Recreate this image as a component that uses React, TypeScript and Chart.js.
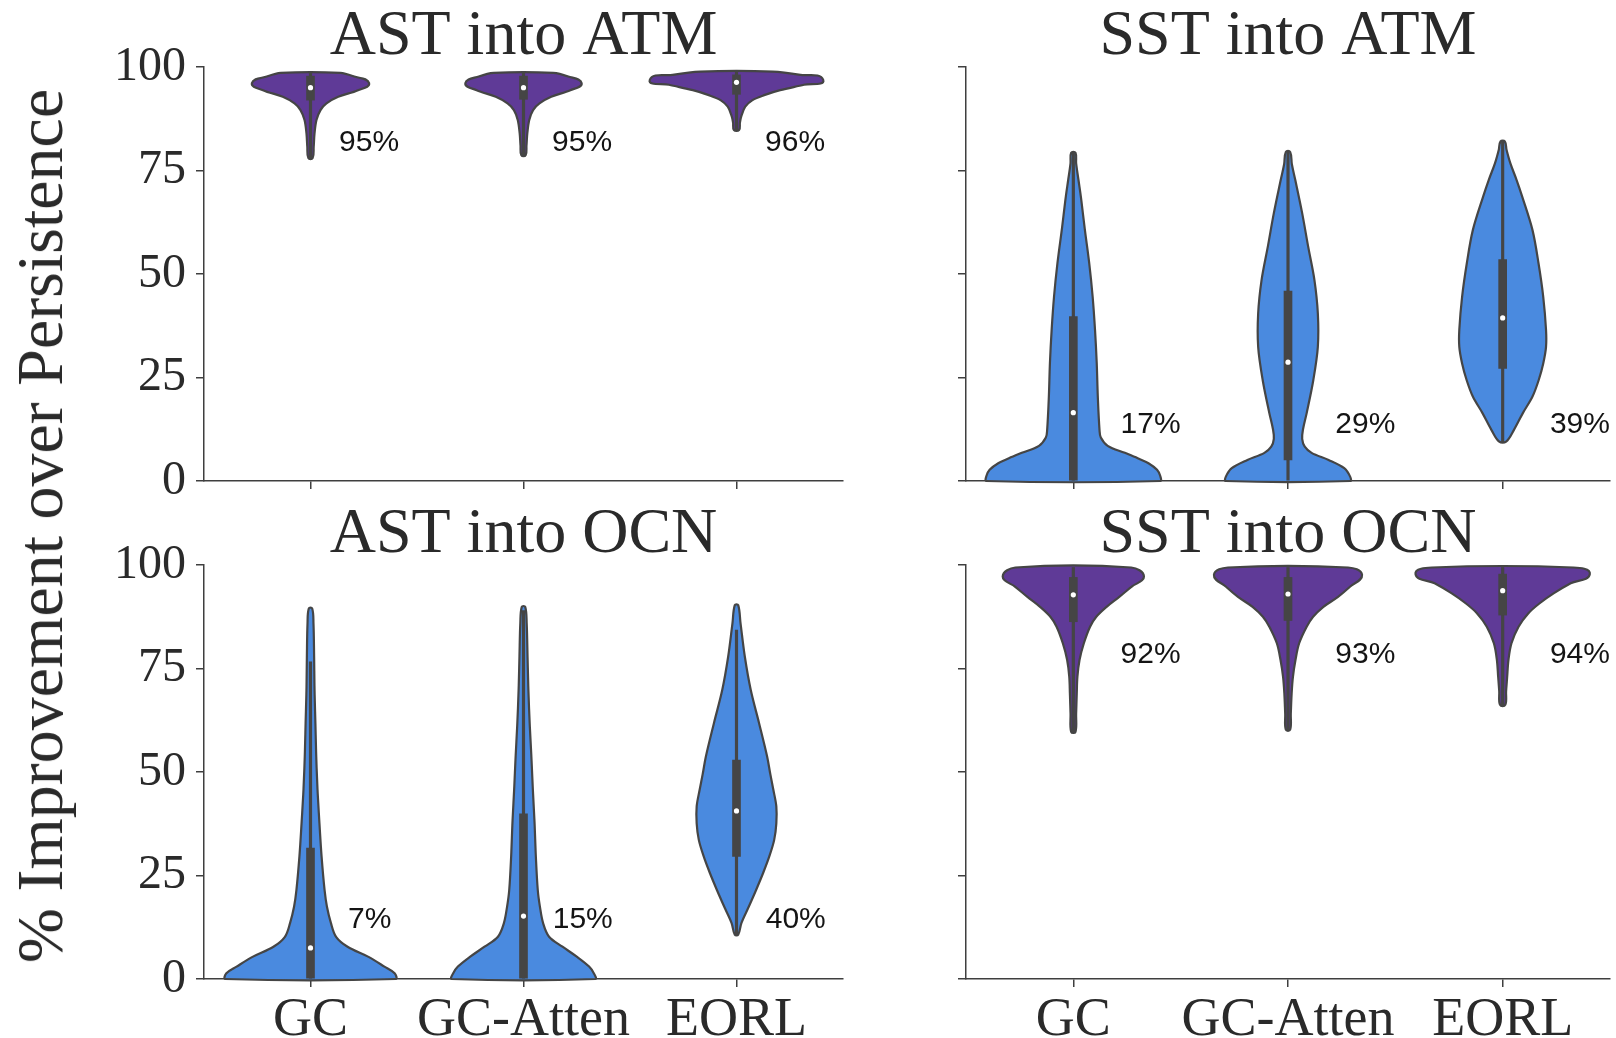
import React, { useEffect, useRef } from 'react';
import { Chart, registerables } from 'chart.js';

Chart.register(...registerables);

// ---------- data ----------
const CATEGORIES = ['GC', 'GC-Atten', 'EORL'];
const Y_MIN = 0;
const Y_MAX = 100;
const Y_STEP = 25;
const Y_AXIS_TITLE = '% Improvement over Persistence';

// violin profiles: [value, half-width as fraction of category spacing]
// AST into ATM
const AST_ATM_GC = [[98.6, 0.14], [97.7, 0.205], [96.1, 0.275], [94.4, 0.223], [92.8, 0.13], [91.2, 0.075], [89.6, 0.047], [87.2, 0.028], [84.0, 0.019], [80.7, 0.015], [78.0, 0.01]];
const AST_ATM_GCATT = [[98.6, 0.14], [97.7, 0.21], [96.1, 0.273], [94.4, 0.22], [92.8, 0.13], [91.2, 0.075], [89.6, 0.045], [87.2, 0.027], [84.0, 0.018], [81.0, 0.014], [78.7, 0.01]];
const AST_ATM_EORL = [[98.9, 0.17], [98.1, 0.3], [96.9, 0.407], [95.7, 0.317], [94.4, 0.205], [93.2, 0.13], [92.0, 0.075], [90.4, 0.041], [88.0, 0.022], [86.5, 0.016], [84.8, 0.012]];
const AST_ATM_BOX = [[92.0, 97.8], [92.2, 97.8], [93.4, 98.1]];
const AST_ATM_WHISKER = [[78.0, 98.6], [78.7, 98.6], [84.8, 98.9]];
const AST_ATM_MEDIAN = [95.0, 95.0, 96.3];
const AST_ATM_PCT = ['95%', '95%', '96%'];

// SST into ATM
const SST_ATM_GC = [[79.3, 0.01], [76.8, 0.013], [72.7, 0.024], [68.7, 0.035], [60.6, 0.054], [52.6, 0.074], [44.5, 0.09], [36.5, 0.101], [28.5, 0.109], [20.4, 0.114], [12.3, 0.122], [10.5, 0.128], [8.5, 0.16], [6.8, 0.24], [5.5, 0.3], [4.3, 0.35], [2.7, 0.39], [1.2, 0.405], [0.0, 0.405]];
const SST_ATM_GCATT = [[79.5, 0.01], [76.5, 0.018], [72.7, 0.034], [64.7, 0.066], [56.6, 0.094], [48.6, 0.123], [40.5, 0.139], [32.4, 0.139], [24.4, 0.118], [16.4, 0.087], [12.5, 0.07], [10.2, 0.066], [8.3, 0.078], [6.8, 0.11], [5.1, 0.189], [3.1, 0.262], [1.0, 0.29], [0.0, 0.29]];
const SST_ATM_EORL = [[82.0, 0.01], [80.0, 0.018], [76.7, 0.036], [72.7, 0.065], [68.7, 0.091], [60.6, 0.139], [52.6, 0.167], [44.5, 0.189], [36.5, 0.202], [32.4, 0.202], [28.4, 0.189], [24.4, 0.168], [20.4, 0.139], [16.4, 0.094], [12.3, 0.052], [9.5, 0.016]];
const SST_ATM_BOX = [[0.0, 39.7], [5.1, 45.9], [27.2, 53.5]];
const SST_ATM_WHISKER = [[0.0, 79.3], [0.0, 79.5], [9.5, 82.0]];
const SST_ATM_MEDIAN = [16.5, 28.7, 39.4];
const SST_ATM_PCT = ['17%', '29%', '39%'];

// AST into OCN
const AST_OCN_GC = [[89.5, 0.008], [85.9, 0.014], [77.9, 0.017], [69.8, 0.019], [61.8, 0.023], [53.7, 0.027], [45.7, 0.033], [37.6, 0.042], [29.6, 0.052], [21.5, 0.066], [17.5, 0.077], [13.5, 0.096], [10.2, 0.12], [7.8, 0.174], [5.4, 0.27], [3.0, 0.347], [1.4, 0.395], [0.0, 0.4]];
const AST_OCN_GCATT = [[89.9, 0.008], [85.9, 0.015], [77.9, 0.019], [69.8, 0.023], [61.8, 0.029], [53.7, 0.037], [45.7, 0.044], [37.6, 0.052], [29.6, 0.058], [21.5, 0.067], [17.5, 0.077], [13.5, 0.092], [10.2, 0.12], [7.8, 0.183], [5.4, 0.25], [3.0, 0.308], [1.4, 0.33], [0.0, 0.337]];
const AST_OCN_EORL = [[90.3, 0.008], [85.9, 0.019], [77.9, 0.039], [69.8, 0.067], [61.8, 0.106], [53.7, 0.144], [49.7, 0.158], [45.7, 0.173], [41.7, 0.187], [37.6, 0.187], [33.6, 0.177], [29.6, 0.154], [25.6, 0.125], [21.5, 0.092], [17.5, 0.058], [13.5, 0.023], [10.7, 0.008]];
const AST_OCN_BOX = [[0.0, 31.6], [0.0, 39.9], [29.6, 52.9]];
const AST_OCN_WHISKER = [[0.0, 76.6], [0.0, 89.0], [10.7, 84.3]];
const AST_OCN_MEDIAN = [7.5, 15.2, 40.6];
const AST_OCN_PCT = ['7%', '15%', '40%'];

// SST into OCN
const SST_OCN_GC = [[99.4, 0.27], [97.2, 0.329], [94.8, 0.272], [92.3, 0.214], [89.9, 0.155], [87.5, 0.107], [85.1, 0.078], [81.1, 0.049], [77.1, 0.029], [73.0, 0.019], [69.0, 0.016], [64.0, 0.013], [59.7, 0.01]];
const SST_OCN_GCATT = [[99.4, 0.28], [97.6, 0.345], [94.8, 0.29], [92.3, 0.233], [89.9, 0.165], [87.5, 0.117], [85.1, 0.087], [81.1, 0.052], [77.1, 0.035], [73.0, 0.023], [69.0, 0.017], [64.0, 0.013], [60.2, 0.01]];
const SST_OCN_EORL = [[99.4, 0.33], [97.8, 0.406], [95.6, 0.317], [93.2, 0.239], [90.7, 0.171], [88.3, 0.119], [85.1, 0.074], [81.1, 0.041], [77.1, 0.027], [73.0, 0.021], [69.5, 0.016], [66.2, 0.012]];
const SST_OCN_BOX = [[86.3, 97.0], [86.6, 97.0], [87.9, 97.8]];
const SST_OCN_WHISKER = [[59.7, 99.4], [60.2, 99.4], [66.2, 99.4]];
const SST_OCN_MEDIAN = [92.8, 93.0, 93.8];
const SST_OCN_PCT = ['92%', '93%', '94%'];

// ---------- styles ----------
const PURPLE = '#5f3a97';
const BLUE = '#4a8adf';
const LINE = '#454545';
const AXIS = '#3f3f3f';
const TEXT = '#2a2a2a';
const SERIF = '"Liberation Serif", "Times New Roman", serif';
const SANS = '"Liberation Sans", Arial, sans-serif';

type Panel = {
  title: string;
  profiles: number[][][];
  box: number[][];
  whisker: number[][];
  median: number[];
  pct: string[];
  color: string;
  labelY: number;
  labelDx: number;
  showY: boolean;
  showX: boolean;
  left: number; top: number; w: number; h: number;
  yAxisW: number; xAxisH: number; padRight: number; titleTop: number;
};

const PANELS: Panel[] = [
  {
    title: 'AST into ATM', profiles: [AST_ATM_GC, AST_ATM_GCATT, AST_ATM_EORL], box: AST_ATM_BOX, whisker: AST_ATM_WHISKER,
    median: AST_ATM_MEDIAN, pct: AST_ATM_PCT, color: PURPLE, labelY: 81.7, labelDx: 0.275, showY: true, showX: false,
    left: 0, top: 0, w: 880, h: 520, yAxisW: 204, xAxisH: 39, padRight: 37, titleTop: 7,
  },
  {
    title: 'SST into ATM', profiles: [SST_ATM_GC, SST_ATM_GCATT, SST_ATM_EORL], box: SST_ATM_BOX, whisker: SST_ATM_WHISKER,
    median: SST_ATM_MEDIAN, pct: SST_ATM_PCT, color: BLUE, labelY: 13.5, labelDx: 0.36, showY: false, showX: false,
    left: 900, top: 0, w: 716, h: 520, yAxisW: 66, xAxisH: 39, padRight: 6, titleTop: 7,
  },
  {
    title: 'AST into OCN', profiles: [AST_OCN_GC, AST_OCN_GCATT, AST_OCN_EORL], box: AST_OCN_BOX, whisker: AST_OCN_WHISKER,
    median: AST_OCN_MEDIAN, pct: AST_OCN_PCT, color: BLUE, labelY: 14.3, labelDx: 0.278, showY: true, showX: true,
    left: 0, top: 500, w: 880, h: 538, yAxisW: 204, xAxisH: 59, padRight: 37, titleTop: 5,
  },
  {
    title: 'SST into OCN', profiles: [SST_OCN_GC, SST_OCN_GCATT, SST_OCN_EORL], box: SST_OCN_BOX, whisker: SST_OCN_WHISKER,
    median: SST_OCN_MEDIAN, pct: SST_OCN_PCT, color: PURPLE, labelY: 78.3, labelDx: 0.36, showY: false, showX: true,
    left: 900, top: 500, w: 716, h: 538, yAxisW: 66, xAxisH: 59, padRight: 6, titleTop: 5,
  },
];

// smooth closed curve; tangent lengths limited by the adjacent chord so corners don't overshoot
function smoothClosed(ctx: CanvasRenderingContext2D, pts: number[][]) {
  const n = pts.length;
  const dir = (a: number[], b: number[]) => {
    const dx = b[0] - a[0];
    const dy = b[1] - a[1];
    const l = Math.hypot(dx, dy) || 1;
    return [dx / l, dy / l];
  };
  ctx.moveTo(pts[0][0], pts[0][1]);
  for (let i = 0; i < n; i++) {
    const p0 = pts[(i - 1 + n) % n];
    const p1 = pts[i];
    const p2 = pts[(i + 1) % n];
    const p3 = pts[(i + 2) % n];
    const len = Math.hypot(p2[0] - p1[0], p2[1] - p1[1]) / 3;
    const d1 = dir(p0, p2);
    const d2 = dir(p1, p3);
    ctx.bezierCurveTo(p1[0] + d1[0] * len, p1[1] + d1[1] * len, p2[0] - d2[0] * len, p2[1] - d2[1] * len, p2[0], p2[1]);
  }
  ctx.closePath();
}

function makeViolinPlugin(p: Panel) {
  return {
    id: 'violins',
    beforeDatasetsDraw(chart: any) {
      const { ctx } = chart;
      const x = chart.scales.x;
      const y = chart.scales.y;
      const unit = x.getPixelForValue(1) - x.getPixelForValue(0);
      p.profiles.forEach((prof, i) => {
        const cx = x.getPixelForValue(i);
        const right = prof.map(([v, w]) => [cx + w * unit, y.getPixelForValue(v)]);
        const left = prof.slice().reverse().map(([v, w]) => [cx - w * unit, y.getPixelForValue(v)]);
        const pts = right.concat(left);
        ctx.save();
        ctx.beginPath();
        smoothClosed(ctx, pts);
        ctx.fillStyle = p.color;
        ctx.fill();
        ctx.lineWidth = 2.2;
        ctx.lineJoin = 'round';
        ctx.strokeStyle = LINE;
        ctx.stroke();
        ctx.restore();
      });
    },
    afterDatasetsDraw(chart: any) {
      const { ctx } = chart;
      const x = chart.scales.x;
      const y = chart.scales.y;
      ctx.save();
      ctx.font = `30px ${SANS}`;
      ctx.fillStyle = '#141414';
      ctx.textAlign = 'center';
      ctx.textBaseline = 'middle';
      p.pct.forEach((t, i) => {
        ctx.fillText(t, x.getPixelForValue(i + p.labelDx), y.getPixelForValue(p.labelY));
      });
      ctx.restore();
    },
  };
}

function PanelChart({ p }: { p: Panel }) {
  const ref = useRef<HTMLCanvasElement | null>(null);
  useEffect(() => {
    if (!ref.current) return;
    const chart = new Chart(ref.current, {
      type: 'bar',
      data: {
        labels: CATEGORIES,
        datasets: [
          {
            type: 'line',
            data: p.median,
            showLine: false,
            pointRadius: 2.6,
            pointBackgroundColor: '#ffffff',
            pointBorderWidth: 0,
            pointHoverRadius: 2.6,
          } as any,
          {
            type: 'bar',
            data: p.box as any,
            backgroundColor: LINE,
            borderWidth: 0,
            barThickness: 8,
            grouped: false,
          } as any,
          {
            type: 'bar',
            data: p.whisker as any,
            backgroundColor: LINE,
            borderWidth: 0,
            barThickness: 2.5,
            grouped: false,
          } as any,
        ],
      },
      options: {
        responsive: false,
        animation: false,
        devicePixelRatio: 1,
        layout: { padding: { left: 0, right: p.padRight, top: 0, bottom: 0 } },
        plugins: {
          legend: { display: false },
          tooltip: { enabled: false },
          title: {
            display: true,
            text: p.title,
            fullSize: false,
            color: TEXT,
            font: { family: SERIF, size: 64, weight: 'normal', lineHeight: 0.9375 },
            padding: { top: p.titleTop, bottom: 0 },
          },
        },
        scales: {
          x: {
            type: 'category',
            offset: true,
            ticks: {
              display: p.showX,
              color: TEXT,
              font: { family: SERIF, size: 54, lineHeight: 1 },
              padding: 7,
              maxRotation: 0,
              autoSkip: false,
            },
            grid: { offset: false, drawOnChartArea: false, drawTicks: true, tickLength: 8, color: AXIS, lineWidth: 1.5 },
            border: { display: true, color: AXIS, width: 1.5 },
            afterFit: (s: any) => { s.height = p.xAxisH; },
          },
          y: {
            min: Y_MIN,
            max: Y_MAX,
            ticks: {
              stepSize: Y_STEP,
              display: p.showY,
              color: TEXT,
              font: { family: SERIF, size: 48, lineHeight: 1 },
              padding: 10,
            },
            grid: { drawOnChartArea: false, drawTicks: true, tickLength: 8, color: AXIS, lineWidth: 1.5 },
            border: { display: true, color: AXIS, width: 1.5 },
            afterFit: (s: any) => { s.width = p.yAxisW; },
          },
        },
      } as any,
      plugins: [makeViolinPlugin(p) as any],
    });
    return () => chart.destroy();
  }, [p]);
  return (
    <canvas
      ref={ref}
      width={p.w}
      height={p.h}
      style={{ position: 'absolute', left: p.left, top: p.top, width: p.w, height: p.h }}
    />
  );
}

export default function App() {
  return (
    <div style={{ position: 'absolute', left: 0, top: 0, width: 1616, height: 1038, background: '#ffffff', overflow: 'hidden' }}>
      {PANELS.map((p) => (
        <PanelChart key={p.title} p={p} />
      ))}
      <div
        style={{
          position: 'absolute',
          left: 40,
          top: 526,
          transform: 'translate(-50%, -50%) rotate(-90deg)',
          fontFamily: SERIF,
          fontSize: 66,
          lineHeight: 'normal',
          color: TEXT,
          whiteSpace: 'nowrap',
        }}
      >
        {Y_AXIS_TITLE}
      </div>
    </div>
  );
}
